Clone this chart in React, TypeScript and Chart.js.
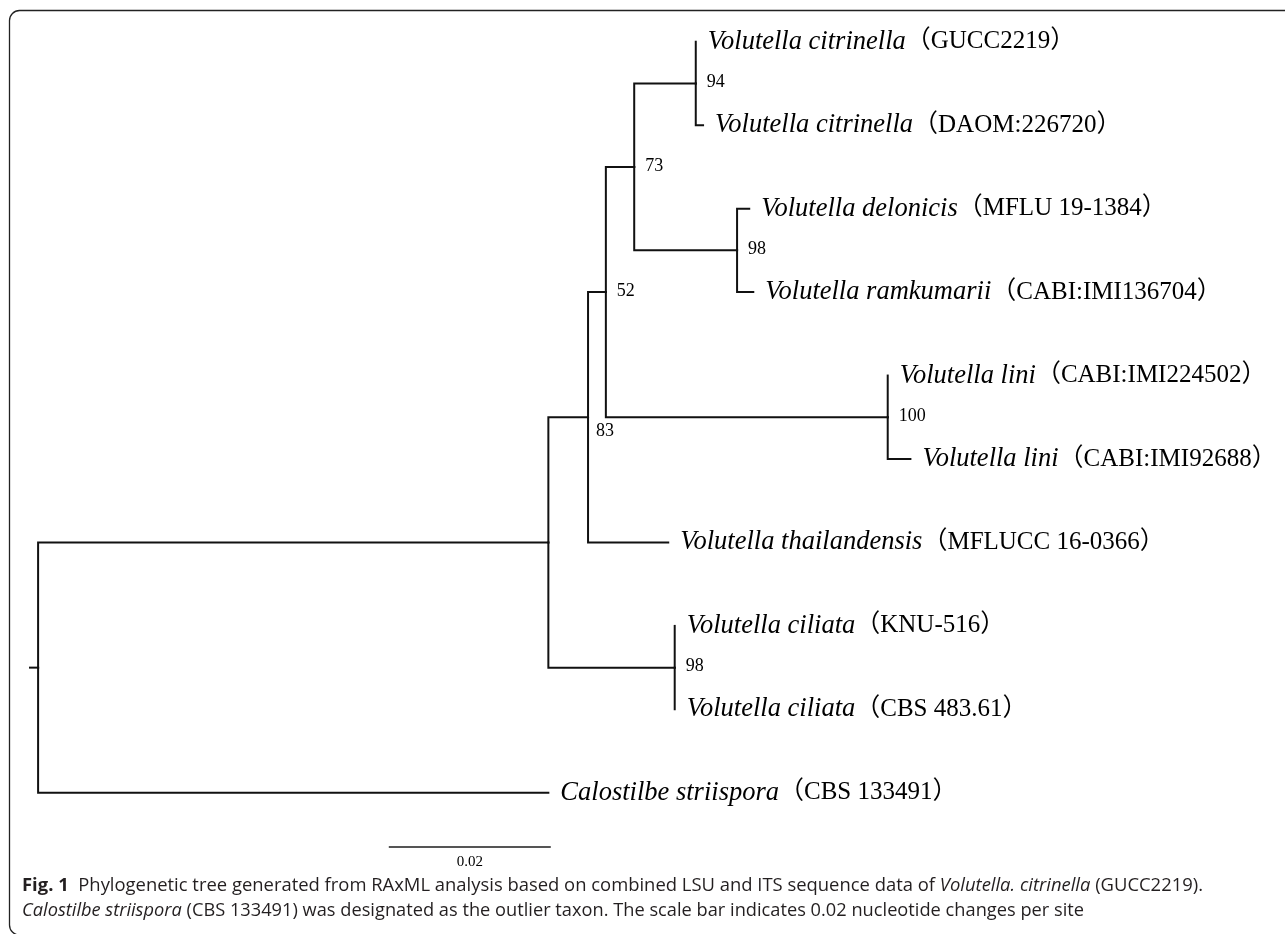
import React, { useEffect, useRef } from "react";
import { Chart, registerables } from "chart.js";

Chart.register(...registerables);

// ---- Tips (top to bottom) ----
const TAXA = [
  "Volutella citrinella",
  "Volutella citrinella",
  "Volutella delonicis",
  "Volutella ramkumarii",
  "Volutella lini",
  "Volutella lini",
  "Volutella thailandensis",
  "Volutella ciliata",
  "Volutella ciliata",
  "Calostilbe striispora",
];
const STRAINS = [
  "GUCC2219",
  "DAOM:226720",
  "MFLU 19-1384",
  "CABI:IMI136704",
  "CABI:IMI224502",
  "CABI:IMI92688",
  "MFLUCC 16-0366",
  "KNU-516",
  "CBS 483.61",
  "CBS 133491",
];
// cumulative distance from root (substitutions per site)
const TIP_DEPTHS = [0.0812, 0.0821, 0.0878, 0.0883, 0.1049, 0.1077, 0.0778, 0.0786, 0.0786, 0.063];
const TIP_PARENTS = ["cit", "cit", "del", "del", "lini", "lini", "n83", "cil", "cil", "root"];

// ---- Internal nodes ----
const NODE_NAMES = ["root", "a", "n83", "n52", "n73", "cit", "del", "lini", "cil"];
const NODE_PARENTS = [null, "root", "a", "n83", "n52", "n73", "n73", "n52", "a"];
const NODE_DEPTHS = [0, 0.063, 0.0679, 0.0701, 0.0736, 0.0812, 0.0863, 0.1049, 0.0786];
const NODE_SUPPORT = [null, null, 83, 52, 73, 94, 98, 100, 98];

// ---- Scale bar ----
const SCALE_BAR_VALUE = 0.02;
const SCALE_BAR_LABEL = "0.02";
const ROOT_STUB = 0.001;

// ---- Caption ----
const CAPTION_LINE1 = [
  { t: "Fig. 1", s: "bold" },
  { t: "  Phylogenetic tree generated from RAxML analysis based on combined LSU and ITS sequence data of ", s: "" },
  { t: "Volutella. citrinella", s: "italic" },
  { t: " (GUCC2219).", s: "" },
];
const CAPTION_LINE2 = [
  { t: "Calostilbe striispora", s: "italic" },
  { t: " (CBS 133491) was designated as the outlier taxon. The scale bar indicates 0.02 nucleotide changes per site", s: "" },
];

// layout constants (styling, not data)
const W = 1285;
const H = 934;
const BAR_ROW = 9.65;
const BAR_START = 0.0433;
const SUPPORT_BELOW = new Set(["n83"]);

function buildTree() {
  const yOf: Record<string, number> = {};
  const xOf: Record<string, number> = {};
  NODE_NAMES.forEach((n, i) => (xOf[n] = NODE_DEPTHS[i]));
  const compute = (name: string): number => {
    if (yOf[name] !== undefined) return yOf[name];
    const ys: number[] = [];
    TIP_PARENTS.forEach((p, i) => {
      if (p === name) ys.push(i);
    });
    NODE_PARENTS.forEach((p, i) => {
      if (p === name) ys.push(compute(NODE_NAMES[i]));
    });
    yOf[name] = ys.reduce((a, b) => a + b, 0) / ys.length;
    return yOf[name];
  };
  NODE_NAMES.forEach((n) => compute(n));
  return { xOf, yOf };
}

export default function App() {
  const ref = useRef<HTMLCanvasElement | null>(null);

  useEffect(() => {
    const canvas = ref.current;
    if (!canvas) return;
    const { xOf, yOf } = buildTree();

    const lineStyle = {
      showLine: true,
      borderColor: "#111",
      backgroundColor: "#111",
      borderWidth: 2,
      pointRadius: 0,
      tension: 0,
      borderCapStyle: "square" as const,
      borderJoinStyle: "miter" as const,
      clip: false as const,
    };

    const datasets: any[] = [];
    // root stub
    datasets.push({
      ...lineStyle,
      data: [
        { x: -ROOT_STUB, y: yOf["root"] },
        { x: 0, y: yOf["root"] },
      ],
    });
    // internal edges
    NODE_NAMES.forEach((n, i) => {
      const p = NODE_PARENTS[i];
      if (!p) return;
      datasets.push({
        ...lineStyle,
        data: [
          { x: xOf[p], y: yOf[p] },
          { x: xOf[p], y: yOf[n] },
          { x: xOf[n], y: yOf[n] },
        ],
      });
    });
    // tip edges
    TIP_PARENTS.forEach((p, i) => {
      datasets.push({
        ...lineStyle,
        data: [
          { x: xOf[p], y: yOf[p] },
          { x: xOf[p], y: i },
          { x: TIP_DEPTHS[i], y: i },
        ],
      });
    });
    // scale bar
    datasets.push({
      ...lineStyle,
      borderColor: "#555",
      borderCapStyle: "butt",
      data: [
        { x: BAR_START, y: BAR_ROW },
        { x: BAR_START + SCALE_BAR_VALUE, y: BAR_ROW },
      ],
    });

    const framePlugin = {
      id: "frame",
      beforeDraw(chart: any) {
        const ctx = chart.ctx;
        ctx.save();
        ctx.fillStyle = "#fff";
        ctx.fillRect(0, 0, W, H);
        ctx.strokeStyle = "#222";
        ctx.lineWidth = 1.3;
        const r = 10;
        const x0 = 9.5;
        const y0 = 10.5;
        const y1 = 935;
        ctx.beginPath();
        ctx.moveTo(W + 5, y0);
        ctx.lineTo(x0 + r, y0);
        ctx.arcTo(x0, y0, x0, y0 + r, r);
        ctx.lineTo(x0, y1 - r);
        ctx.arcTo(x0, y1, x0 + r, y1, r);
        ctx.lineTo(W + 5, y1);
        ctx.stroke();
        ctx.restore();
      },
    };

    const labelPlugin = {
      id: "treeLabels",
      afterDraw(chart: any) {
        const ctx = chart.ctx;
        const xs = chart.scales.x;
        const ys = chart.scales.y;
        ctx.save();
        ctx.fillStyle = "#000";
        ctx.textBaseline = "middle";
        ctx.textAlign = "left";
        // tip labels
        TAXA.forEach((taxon, i) => {
          let px = xs.getPixelForValue(TIP_DEPTHS[i]) + 12;
          const py = ys.getPixelForValue(i);
          ctx.font = 'italic 26.5px "Liberation Serif", "Times New Roman", serif';
          ctx.fillText(taxon, px, py);
          px += ctx.measureText(taxon).width;
          ctx.font = '25px "Liberation Serif", "Noto Sans CJK SC", serif';
          ctx.fillText("\uFF08" + STRAINS[i] + "\uFF09", px, py);
        });
        // support values
        ctx.font = '18px "Liberation Serif", serif';
        NODE_NAMES.forEach((n, i) => {
          const s = NODE_SUPPORT[i];
          if (s === null) return;
          const px = xs.getPixelForValue(NODE_DEPTHS[i]);
          const py = ys.getPixelForValue(yOf[n]);
          if (SUPPORT_BELOW.has(n)) ctx.fillText(String(s), px + 8, py + 14);
          else ctx.fillText(String(s), px + 11, py - 1);
        });
        // scale bar label
        ctx.textAlign = "center";
        ctx.font = '15px "Liberation Serif", serif';
        const bx = (xs.getPixelForValue(BAR_START) + xs.getPixelForValue(BAR_START + SCALE_BAR_VALUE)) / 2;
        const by = ys.getPixelForValue(BAR_ROW);
        ctx.fillText(SCALE_BAR_LABEL, bx, by + 15);

        // caption
        const fontFor = (s: string) => `${s ? s + " " : ""}18px "Open Sans", sans-serif`;
        const measure = (segs: { t: string; s: string }[]) => {
          let w = 0;
          segs.forEach((g) => {
            ctx.font = fontFor(g.s);
            w += ctx.measureText(g.t).width;
          });
          return w;
        };
        const drawLine = (segs: { t: string; s: string }[], x: number, y: number, width: number) => {
          const sx = width / measure(segs);
          ctx.save();
          ctx.translate(x, y);
          ctx.scale(sx, 1);
          ctx.textAlign = "left";
          ctx.fillStyle = "#231f20";
          let cx = 0;
          segs.forEach((g) => {
            ctx.font = fontFor(g.s);
            ctx.fillText(g.t, cx, 0);
            cx += ctx.measureText(g.t).width;
          });
          ctx.restore();
        };
        drawLine(CAPTION_LINE1, 22, 886, 1181);
        drawLine(CAPTION_LINE2, 22, 911, 1062);
        ctx.restore();
      },
    };

    const chart = new Chart(canvas, {
      type: "scatter",
      data: { datasets },
      options: {
        animation: false,
        responsive: false,
        events: [],
        layout: { padding: { left: 30, right: 32, top: 0, bottom: 16 } },
        scales: {
          x: { type: "linear", display: false, min: -ROOT_STUB, max: 0.15 },
          y: { type: "linear", display: false, min: -0.5, max: 10.5, reverse: true },
        },
        plugins: {
          legend: { display: false },
          tooltip: { enabled: false },
          title: { display: false },
        },
      },
      plugins: [framePlugin, labelPlugin],
    });
    return () => chart.destroy();
  }, []);

  return (
    <div style={{ position: "fixed", left: 0, top: 0, width: W, height: H, background: "#fff" }}>
      <canvas ref={ref} width={W} height={H} style={{ display: "block", width: W, height: H }} />
    </div>
  );
}
